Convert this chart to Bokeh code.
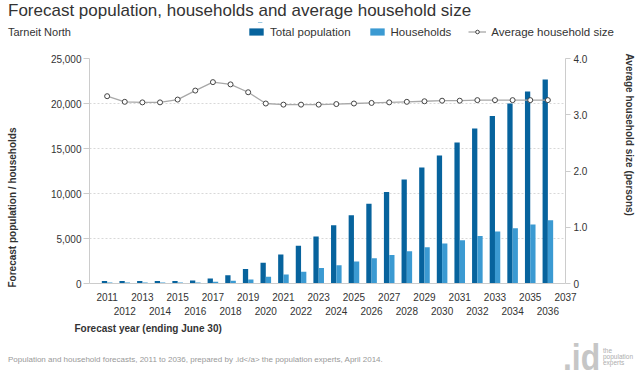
from bokeh.plotting import figure
from bokeh.layouts import column, row
from bokeh.models import (Range1d, LinearAxis, FixedTicker, NumeralTickFormatter, Title,
                          Legend, LegendItem, ColumnDataSource, Div)
from bokeh.transform import dodge
from bokeh.embed import file_html
from bokeh.resources import INLINE

years = list(range(2011, 2037))
total_population = [270, 270, 270, 270, 270, 330, 560, 930, 1600, 2300, 3220, 4190, 5220,
                    6480, 7590, 8850, 10180, 11550, 12880, 14220, 15660, 17220, 18620,
                    20000, 21330, 22670]
households = [110, 110, 110, 110, 110, 120, 190, 300, 450, 740, 1000, 1300, 1720,
              2030, 2440, 2810, 3180, 3590, 4030, 4440, 4810, 5290, 5780, 6140, 6550, 7030]
avg_household_size = [3.33, 3.23, 3.22, 3.22, 3.27, 3.43, 3.58, 3.54, 3.40, 3.20, 3.18, 3.18,
                      3.18, 3.19, 3.20, 3.21, 3.22, 3.23, 3.24, 3.25, 3.25, 3.26, 3.26, 3.26,
                      3.26, 3.26]
x_tick_years = list(range(2011, 2038))
left_ticks = [0, 5000, 10000, 15000, 20000, 25000]
right_ticks = [0, 1, 2, 3, 4]
right_tick_labels = ["0", "1.0", "2.0", "3.0", "4.0"]

DARK = "#07639d"
LIGHT = "#3b9ad2"
LINE = "#a8a8a8"
MARK = "#444444"
FONT = "Liberation Sans"
TXT = "#333333"

W = 640
TITLE_H = 22
ROW2_H = 20
FOOT_H = 36
MAIN_H = 380 - TITLE_H - ROW2_H - FOOT_H
SUB_W = 245
FOOT_W = 548

# ---------------- main chart ----------------
src = ColumnDataSource(dict(year=years, total=total_population, hh=households,
                            size=avg_household_size))

p = figure(width=W, height=MAIN_H, output_backend="svg", toolbar_location=None,
           x_range=Range1d(2010, 2037), y_range=Range1d(0, 25000),
           min_border_left=72, min_border_right=54, min_border_top=16,
           min_border_bottom=61, outline_line_color=None)
p.extra_y_ranges = {"hh": Range1d(0, 4)}

p.vbar(x=dodge("year", -0.15, range=p.x_range), top="total", width=0.3,
       source=src, fill_color=DARK, line_color=None)
p.vbar(x=dodge("year", 0.15, range=p.x_range), top="hh", width=0.3,
       source=src, fill_color=LIGHT, line_color=None)
p.line(x="year", y="size", source=src, y_range_name="hh", line_color=LINE, line_width=1.3)
p.scatter(x="year", y="size", source=src, y_range_name="hh", marker="circle", size=5,
          fill_color="white", line_color=MARK, line_width=1)

p.xgrid.visible = False
p.ygrid.ticker = FixedTicker(ticks=left_ticks)
p.ygrid.grid_line_color = "#d8d8d8"
p.ygrid.grid_line_dash = "2 2"


def style_axis(ax, tick_out, standoff):
    ax.major_tick_out = tick_out
    ax.major_tick_in = 0
    ax.minor_tick_line_color = None
    ax.major_label_standoff = standoff
    ax.major_label_text_font = FONT
    ax.major_label_text_font_size = "10px"
    ax.major_label_text_color = TXT


ya = p.yaxis[0]
ya.ticker = FixedTicker(ticks=left_ticks)
ya.formatter = NumeralTickFormatter(format="0,0")
ya.axis_line_color = "#cccccc"
ya.major_tick_line_color = "#cccccc"
style_axis(ya, 6, 2)

ra = LinearAxis(y_range_name="hh", ticker=FixedTicker(ticks=right_ticks),
                major_label_overrides={t: l for t, l in zip(right_ticks, right_tick_labels)})
ra.axis_line_color = "#cccccc"
ra.major_tick_line_color = "#cccccc"
style_axis(ra, 5, 3)
p.add_layout(ra, "right")

xa = p.xaxis[0]
xa.ticker = FixedTicker(ticks=x_tick_years)
xa.major_label_overrides = {y: (str(y) if y % 2 == 1 else "") for y in x_tick_years}
xa.axis_line_color = "#cccccc"
xa.major_tick_line_color = None
style_axis(xa, 0, 9)

xb = LinearAxis(ticker=FixedTicker(ticks=x_tick_years),
                major_label_overrides={y: (str(y) if y % 2 == 0 else "") for y in x_tick_years})
xb.axis_line_color = None
xb.major_tick_line_color = None
style_axis(xb, 0, 3)
p.add_layout(xb, "below")


def axis_title(text, side, offset, valign="middle"):
    p.add_layout(Title(text=text, align="left", vertical_align=valign, offset=offset,
                       text_font=FONT, text_font_size="10px", text_font_style="bold",
                       text_color=TXT), side)


def spacer(side, size):
    p.add_layout(Title(text=" ", text_font_size=size), side)


axis_title("Forecast year (ending June 30)", "below", -15, "top")
spacer("left", "11px")
axis_title("Forecast population / households", "left", -4)
spacer("right", "13px")
axis_title("Average household size (persons)", "right", -5)

# ---------------- legend strip (glyph styles only; its one data row is kept out of view) ---
legend_src = ColumnDataSource(dict(year=years[:1], total=total_population[:1],
                                   hh=households[:1], size=avg_household_size[:1]))
lg = figure(width=W - SUB_W, height=ROW2_H, output_backend="svg", toolbar_location=None,
            x_range=Range1d(2010, 2037), y_range=Range1d(-1000001, -1000000), min_border=0,
            outline_line_color=None, x_axis_location=None, y_axis_location=None)
lg.xgrid.visible = False
lg.ygrid.visible = False
r1 = lg.vbar(x="year", top="total", width=0.3, source=legend_src, fill_color=DARK,
             line_color=None)
r2 = lg.vbar(x="year", top="hh", width=0.3, source=legend_src, fill_color=LIGHT,
             line_color=None)
r3 = lg.line(x="year", y="size", source=legend_src, line_color=LINE, line_width=1.3)
r4 = lg.scatter(x="year", y="size", source=legend_src, marker="circle", size=5,
                fill_color="white", line_color=MARK, line_width=1)
legend = Legend(items=[LegendItem(label="Total population", renderers=[r1]),
                       LegendItem(label="Households", renderers=[r2]),
                       LegendItem(label="Average household size", renderers=[r3, r4])],
                orientation="horizontal", location=(2, 4), padding=0, margin=0,
                spacing=17, glyph_width=18, glyph_height=9, label_standoff=5,
                label_height=13, border_line_color=None, background_fill_alpha=0,
                label_text_font=FONT, label_text_font_size="11.5px", label_text_color=TXT)
lg.add_layout(legend, "center")

# ---------------- texts ----------------
title = Div(text="Forecast population, households and average household size",
            width=W, height=TITLE_H, margin=0,
            styles={"font-family": FONT, "font-size": "17px", "line-height": f"{TITLE_H}px",
                    "color": TXT, "white-space": "nowrap", "text-indent": "8px"})
subtitle = Div(text="Tarneit North", width=SUB_W, height=ROW2_H, margin=0,
               styles={"font-family": FONT, "font-size": "11px", "text-indent": "8px",
                       "line-height": f"{ROW2_H}px", "color": TXT})
footer = Div(text="<div style='padding-left:8px;padding-top:10px'>Population and household "
                  "forecasts, 2011 to 2036, prepared by .id&lt;/a&gt; the population experts, "
                  "April 2014.</div>",
             width=FOOT_W, height=FOOT_H, margin=0,
             styles={"font-family": FONT, "font-size": "8px", "color": "#999999",
                     "white-space": "nowrap"})
logo = Div(text="<div style='position:relative;width:92px;height:36px;'>"
                "<span style=\"position:absolute;left:15px;top:-5px;font-family:'Liberation Sans';"
                "font-weight:bold;font-size:37px;line-height:37px;color:#c6c6c6;"
                "display:inline-block;transform:scaleX(0.86);transform-origin:left top;\">.id</span>"
                "<span style=\"position:absolute;left:55px;top:4px;font-family:'Liberation Sans';"
                "font-size:6.5px;line-height:6px;color:#adadad;\">the<br>population<br>experts"
                "</span></div>",
           width=W - FOOT_W, height=FOOT_H, margin=0)

layout = column(title, row(subtitle, lg, spacing=0), p, row(footer, logo, spacing=0),
                spacing=0)
open("out.html", "w").write(file_html(layout, INLINE))
